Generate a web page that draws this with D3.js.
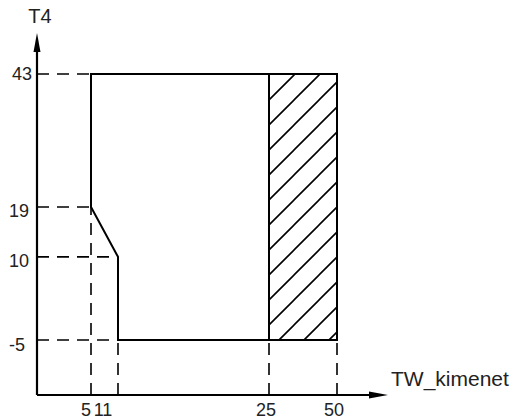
<!DOCTYPE html>
<html>
<head>
<meta charset="utf-8">
<script src="https://cdn.jsdelivr.net/npm/d3@7"></script>
<style>
  body { margin: 0; background: #fff; }
  text { font-family: "Liberation Sans", Arial, sans-serif; fill: #222; }
</style>
</head>
<body>
<div id="chart"></div>
<script>
// tick values
const xTicks = [5, 11, 25, 50];
const yTicks = [43, 19, 10, -5];
const xTitle = 'TW_kimenet';
const yTitle = 'T4';

// outline of the region (x, y)
const regionX = [5, 50, 50, 11, 11, 5];
const regionY = [43, 43, -5, -5, 10, 19];
// hatched band
const hatchX = [25, 50];
const hatchY = [-5, 43];

const width = 513, height = 416;

const svg = d3.select('#chart')
      .append('svg')
      .attr('width', width)
      .attr('height', height);

// x axis is schematic, not linear -> piecewise scale
const xScale = d3.scaleLinear()
        .domain([0, 5, 11, 25, 50])
        .range([37, 91, 118, 269, 337]);
const yScale = d3.scaleLinear()
        .domain([-5, 43])
        .range([340, 74]);

const x0 = 37, y0 = 395;      // origin of the arrows
const xEnd = 388, yEnd = 33;  // arrow tips

// hatch pattern, 45 degree lines
const defs = svg.append('defs');
const pat = defs.append('pattern')
      .attr('id', 'hatch')
      .attr('patternUnits', 'userSpaceOnUse')
      .attr('x', 19).attr('y', 0)
      .attr('width', 25).attr('height', 25);
pat.append('path')
      .attr('d', 'M-5,5 L5,-5 M0,25 L25,0 M20,30 L30,20')
      .attr('stroke', '#000')
      .attr('stroke-width', 1.6);

svg.append('rect')
      .attr('x', xScale(hatchX[0]))
      .attr('y', yScale(hatchY[1]))
      .attr('width', xScale(hatchX[1]) - xScale(hatchX[0]))
      .attr('height', yScale(hatchY[0]) - yScale(hatchY[1]))
      .attr('fill', 'url(#hatch)');

// dashed guides
const dash = '12,8';
const guides = [
  {y: 43, x2: 5},
  {y: 19, x2: 5},
  {y: 10, x2: 11},
  {y: -5, x2: 11}
];
svg.selectAll('.hguide')
      .data(guides)
      .enter()
      .append('line')
      .attr('class', 'hguide')
      .attr('x1', x0)
      .attr('x2', d => xScale(d.x2))
      .attr('y1', d => yScale(d.y))
      .attr('y2', d => yScale(d.y))
      .attr('stroke', '#000')
      .attr('stroke-width', 1.6)
      .attr('stroke-dasharray', dash);

const vguides = [
  {x: 5, from: 19},
  {x: 11, from: -5},
  {x: 25, from: -5},
  {x: 50, from: -5}
];
svg.selectAll('.vguide')
      .data(vguides)
      .enter()
      .append('line')
      .attr('class', 'vguide')
      .attr('x1', d => xScale(d.x))
      .attr('x2', d => xScale(d.x))
      .attr('y1', y0)
      .attr('y2', d => yScale(d.from))
      .attr('stroke', '#000')
      .attr('stroke-width', 1.6)
      .attr('stroke-dasharray', dash);

// region outline
const pts = regionX.map((v, i) => [xScale(v), yScale(regionY[i])]);
svg.append('path')
      .attr('d', d3.line()(pts) + 'Z')
      .attr('fill', 'none')
      .attr('stroke', '#000')
      .attr('stroke-width', 2)
      .attr('stroke-linejoin', 'miter');

svg.append('line')
      .attr('x1', xScale(hatchX[0])).attr('x2', xScale(hatchX[0]))
      .attr('y1', yScale(hatchY[0])).attr('y2', yScale(hatchY[1]))
      .attr('stroke', '#000')
      .attr('stroke-width', 2);

// arrows
svg.append('path')
      .attr('d', `M${x0},${y0} L${x0},${yEnd + 10} M${x0},${y0} L${xEnd - 10},${y0}`)
      .attr('stroke', '#000')
      .attr('stroke-width', 2.2)
      .attr('fill', 'none');
svg.append('path')
      .attr('d', `M${x0},${yEnd} L${x0 - 3.5},${yEnd + 19} L${x0 + 3.5},${yEnd + 19}Z`)
      .attr('fill', '#000');
svg.append('path')
      .attr('d', `M${xEnd},${y0} L${xEnd - 19},${y0 - 3.5} L${xEnd - 19},${y0 + 3.5}Z`)
      .attr('fill', '#000');

// tick labels
const yNudge = {43: [3, 0], 19: [0, 4], 10: [0, 4], '-5': [-4, 5]};
svg.selectAll('.ylab')
      .data(yTicks)
      .enter()
      .append('text')
      .attr('class', 'ylab')
      .attr('x', d => 29 + yNudge[d][0])
      .attr('y', d => yScale(d) + yNudge[d][1])
      .attr('text-anchor', 'end')
      .attr('dominant-baseline', 'central')
      .style('font-size', '18px')
      .text(d => d);

const xNudge = {5: -5, 11: -15, 25: -3, 50: -3};
svg.selectAll('.xlab')
      .data(xTicks)
      .enter()
      .append('text')
      .attr('class', 'xlab')
      .attr('x', d => xScale(d) + xNudge[d])
      .attr('y', 416)
      .attr('text-anchor', 'middle')
      .style('font-size', '18px')
      .text(d => d);

// axis titles
svg.append('text')
      .attr('x', 40)
      .attr('y', 23)
      .attr('text-anchor', 'middle')
      .style('font-size', '20px')
      .text(yTitle);
svg.append('text')
      .attr('x', 391)
      .attr('y', 386)
      .style('font-size', '21px')
      .text(xTitle);
</script>
</body>
</html>
